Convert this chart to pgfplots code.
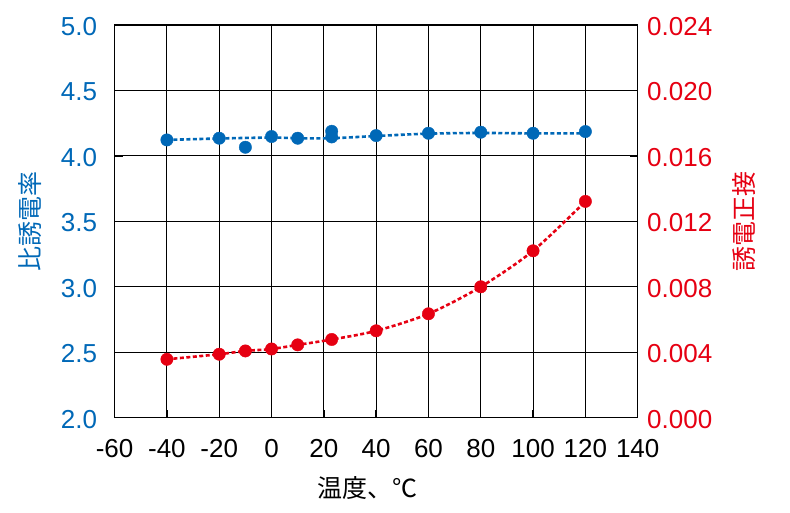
\documentclass[border=0pt]{standalone}
\usepackage{pgfplots}
\pgfplotsset{compat=1.18}
\usepackage{fontspec}
\setmainfont{Liberation Sans}
\newfontfamily\jp{Noto Sans CJK JP}
\definecolor{myblue}{RGB}{0,104,183}
\definecolor{myred}{RGB}{230,0,18}
\begin{document}
\begin{tikzpicture}
\pgfplotsset{
 common/.style={
  scale only axis, width=523.1pt, height=392.7pt,
  xmin=-60, xmax=140,
  /pgf/number format/assume math mode=true,
  tick label style={font=\fontsize{26}{31}\selectfont},
  label style={font=\fontsize{25}{30}\selectfont},
  major tick length=8pt,
 }
}
\begin{axis}[common,
  ymin=2, ymax=5,
  xtick={-60,-40,-20,0,20,40,60,80,100,120,140},
  ytick={2,2.5,3,3.5,4,4.5,5},
  tick align=inside,
  grid=major,
  grid style={black, line width=1.1pt},
  axis line style={black, line width=1.4pt},
  tick style={black, line width=1.4pt},
  ytick pos=left, xtick pos=bottom,
  yticklabel style={/pgf/number format/fixed, /pgf/number format/fixed zerofill, /pgf/number format/precision=1, color=myblue, xshift=-14pt, yshift=-1.5pt},
  xticklabel style={yshift=-18pt},
  ylabel={\jp 比誘電率},
  ylabel style={at={(axis description cs:-0.1617,0.5)}, anchor=center, color=myblue},
  xlabel={\jp 温度、℃},
  xlabel style={at={(axis description cs:0.4844,-0.179)}, anchor=center},
]
\addplot[myblue, smooth, line width=2.6pt, dash pattern=on 4pt off 2.5pt] coordinates {
(-40,4.122)(-20,4.133)(0,4.140)(10,4.135)(23,4.135)(40,4.152)(60,4.170)(80,4.175)(100,4.172)(120,4.172)};
\addplot[only marks, mark=*, mark size=6.2pt, mark options={fill=myblue, draw=myblue}] coordinates {
(-40,4.122)(-20,4.135)(-10,4.066)(0,4.148)(10,4.135)(23,4.188)(23,4.145)(40,4.155)(60,4.173)(80,4.181)(100,4.173)(120,4.186)};
\end{axis}
\begin{axis}[common,
  ymin=0, ymax=0.024,
  ytick={0,0.004,0.008,0.012,0.016,0.020,0.024},
  scaled y ticks=false,
  axis x line=none, axis y line*=right,
  tick align=inside,
  axis line style={black, line width=1.4pt},
  tick style={black, line width=1.4pt},
  yticklabel style={/pgf/number format/fixed, /pgf/number format/fixed zerofill, /pgf/number format/precision=3, color=myred, xshift=6pt, yshift=-1.5pt},
  ylabel={\jp 誘電正接},
  ylabel style={at={(axis description cs:1.2042,0.5)}, anchor=center, color=myred},
]
\addplot[myred, smooth, line width=2.6pt, dash pattern=on 4pt off 2.5pt] coordinates {
(-40,0.00357)(-20,0.00388)(-10,0.00408)(0,0.0042)(10,0.00445)(23,0.00478)(40,0.00531)(60,0.00635)(80,0.0080)(100,0.0102)(120,0.01322)};
\addplot[only marks, mark=*, mark size=6.2pt, mark options={fill=myred, draw=myred}] coordinates {
(-40,0.00357)(-20,0.00388)(-10,0.00408)(0,0.0042)(10,0.00445)(23,0.00478)(40,0.00531)(60,0.00635)(80,0.0080)(100,0.0102)(120,0.01322)};
\end{axis}
\pgfresetboundingbox
\path (-114.6pt,-95.3pt) rectangle (675.4pt,417.7pt);
\end{tikzpicture}
\end{document}
